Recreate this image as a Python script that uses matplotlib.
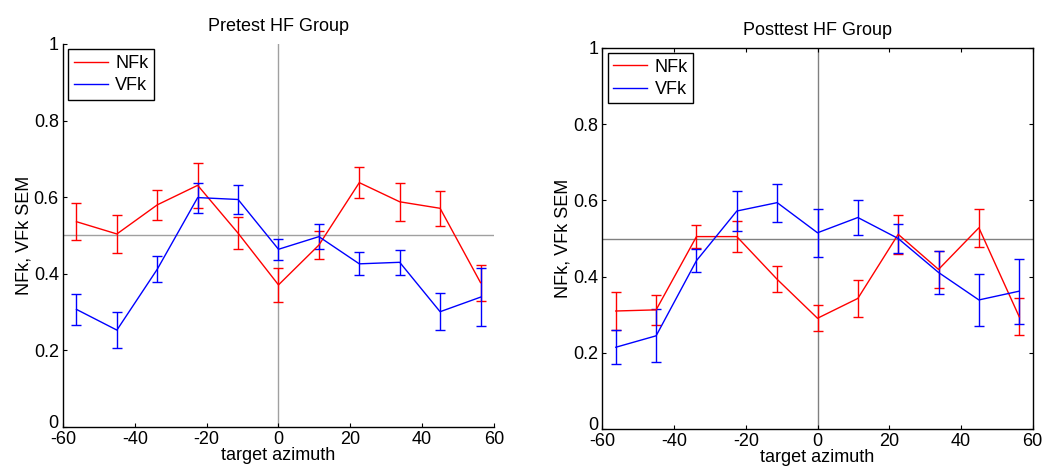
# -*- coding: utf-8 -*-
import matplotlib
matplotlib.use('Agg')
import matplotlib.pyplot as plt
import matplotlib.transforms as mtransforms

plt.rcParams['font.family'] = ['Liberation Sans', 'DejaVu Sans']

# target azimuth positions
azimuth = [-56.25, -45, -33.75, -22.5, -11.25, 0, 11.25, 22.5, 33.75, 45, 56.25]

# pretest
pre_nfk = [0.536, 0.504, 0.580, 0.631, 0.506, 0.371, 0.475, 0.638, 0.588, 0.571, 0.377]
pre_nfk_sem = [0.048, 0.049, 0.040, 0.058, 0.042, 0.045, 0.036, 0.040, 0.049, 0.046, 0.047]
pre_vfk = [0.307, 0.253, 0.412, 0.599, 0.594, 0.464, 0.497, 0.426, 0.430, 0.301, 0.339]
pre_vfk_sem = [0.040, 0.047, 0.034, 0.039, 0.037, 0.028, 0.033, 0.030, 0.032, 0.048, 0.075]

# posttest
post_nfk = [0.310, 0.313, 0.505, 0.505, 0.393, 0.291, 0.343, 0.511, 0.419, 0.528, 0.295]
post_nfk_sem = [0.050, 0.039, 0.031, 0.041, 0.034, 0.034, 0.048, 0.051, 0.048, 0.049, 0.048]
post_vfk = [0.215, 0.245, 0.442, 0.572, 0.594, 0.515, 0.555, 0.500, 0.411, 0.339, 0.362]
post_vfk_sem = [0.045, 0.069, 0.031, 0.052, 0.050, 0.063, 0.047, 0.038, 0.057, 0.068, 0.085]

yticks = [0, 0.2, 0.4, 0.6, 0.8, 1]
ytick_labels = ['0', '0.2', '0.4', '0.6', '0.8', '1']
xticks = [-60, -40, -20, 0, 20, 40, 60]

FS = 13


def draw_panel(fig, ax, nfk, nfk_sem, vfk, vfk_sem, title, box, refcolor):
    # reference lines at 0.5 and azimuth 0
    ax.axhline(0.5, color=refcolor, lw=1, zorder=1)
    ax.axvline(0, color=refcolor, lw=1, zorder=1)
    ax.errorbar(azimuth, nfk, yerr=nfk_sem, color='#ff0000', lw=1, elinewidth=1,
                capsize=3.5, capthick=1, label='NFk', zorder=3)
    ax.errorbar(azimuth, vfk, yerr=vfk_sem, color='#0000ff', lw=1, elinewidth=1,
                capsize=3.5, capthick=1, label='VFk', zorder=3)
    ax.set_xlim(-60, 60)
    ax.set_ylim(0, 1)
    ax.set_xticks(xticks)
    ax.set_xticklabels([str(t) for t in xticks])
    ax.set_yticks(yticks)
    ax.set_yticklabels(ytick_labels)
    ax.tick_params(direction='in', length=3, labelsize=FS, pad=3,
                   top=box, right=box, width=0.8)
    for s in ['top', 'right']:
        ax.spines[s].set_visible(box)
    for s in ax.spines.values():
        s.set_linewidth(1)
    # nudge the "0" y label up a little, so it just touches "-60" as in the original
    lab0 = ax.get_yticklabels()[0]
    lab0.set_transform(lab0.get_transform() +
                       mtransforms.ScaledTranslation(0, 4 / 72, fig.dpi_scale_trans))
    ax.set_xlabel('target azimuth', fontsize=FS, labelpad=-1)
    ax.set_ylabel('NFk, VFk SEM', fontsize=FS, labelpad=1)
    ax.set_title(title, fontsize=FS, pad=9)
    handles, labels = ax.get_legend_handles_labels()
    handles = [h[0] for h in handles]
    leg = ax.legend(handles, labels, loc='upper left', fontsize=FS, frameon=True,
                    fancybox=False, edgecolor='black', framealpha=1,
                    borderaxespad=0.3, handlelength=1.9, handletextpad=0.4,
                    borderpad=0.3, labelspacing=0.3)
    leg.get_frame().set_linewidth(1)
    leg.set_zorder(5)


fig = plt.figure(figsize=(10.45, 4.7), dpi=100)
ax1 = fig.add_axes([0.0603, 0.0915, 0.4124, 0.8149])
ax2 = fig.add_axes([0.5764, 0.0866, 0.4118, 0.8119])

draw_panel(fig, ax1, pre_nfk, pre_nfk_sem, pre_vfk, pre_vfk_sem, 'Pretest HF Group', False, '#a0a0a0')
draw_panel(fig, ax2, post_nfk, post_nfk_sem, post_vfk, post_vfk_sem, 'Posttest HF Group', True, '#808080')

plt.savefig('out.png', dpi=100)
